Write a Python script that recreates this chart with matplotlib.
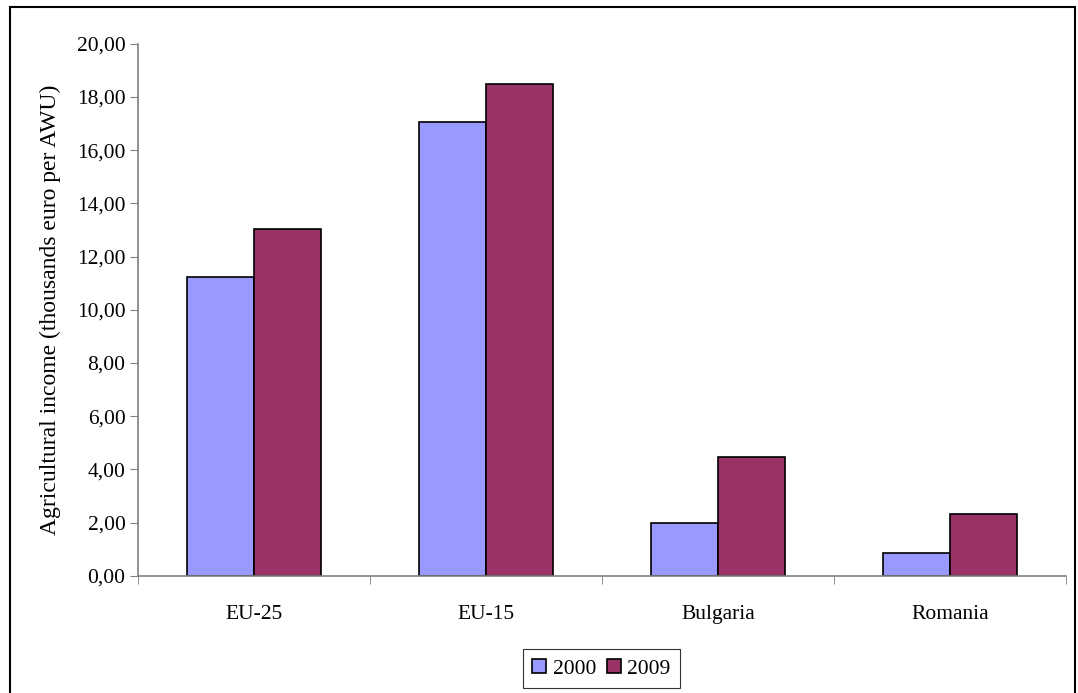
import numpy as np
import matplotlib.pyplot as plt
from matplotlib.patches import Rectangle

# -- data --
countries = ["EU-25", "EU-15", "Bulgaria", "Romania"]
years = ["2000", "2009"]
income_2000 = [11.25, 17.07, 2.00, 0.87]
income_2009 = [13.02, 18.47, 4.46, 2.32]
colors = ["#9999FF", "#993366"]

plt.rcParams['font.family'] = ['Liberation Serif', 'DejaVu Serif']

fig = plt.figure(figsize=(10.78, 6.93), dpi=100)
ax = fig.add_axes([0.128, 0.169, 0.861, 0.768])

x = np.arange(len(countries))
w = 0.289
ax.bar(x - w / 2, income_2000, w, color=colors[0], edgecolor="black", linewidth=1.2, label=years[0])
ax.bar(x + w / 2, income_2009, w, color=colors[1], edgecolor="black", linewidth=1.2, label=years[1])

ax.set_xlim(-0.5, len(countries) - 0.5)
ax.set_ylim(0, 20)
ax.set_yticks(np.arange(0, 21, 2))
ax.set_yticklabels([f"{v:.2f}".replace(".", ",") for v in np.arange(0, 21, 2)], fontsize=15.5)

# category labels centred, ticks on boundaries
ax.set_xticks(x)
ax.set_xticklabels(countries, fontsize=15.5)
ax.tick_params(axis="x", which="major", length=0, pad=21)
ax.set_xticks(np.arange(-0.5, len(countries)), minor=True)
ax.tick_params(axis="x", which="minor", length=6, direction="out", color="#808080")
ax.tick_params(axis="y", length=6, direction="out", color="#808080", pad=3)

for s in ["top", "right"]:
    ax.spines[s].set_visible(False)
for s in ["left", "bottom"]:
    ax.spines[s].set_color("#808080")
    ax.spines[s].set_linewidth(1.2)

ax.set_ylabel("Agricultural income (thousands euro per AWU)", fontsize=17, labelpad=11)

leg = fig.legend(loc="center", bbox_to_anchor=(0.558, 0.035), ncol=2, fontsize=15.5,
                 frameon=True, fancybox=False, edgecolor="black", handlelength=0.65,
                 handleheight=0.65, handletextpad=0.3, columnspacing=0.5,
                 borderpad=0.45)
leg.get_frame().set_linewidth(0.8)

# outer chart border
fig.patches.append(Rectangle((0.0093, -0.01), 0.988, 1.0, transform=fig.transFigure,
                             fill=False, edgecolor="black", linewidth=1.5))

fig.savefig("out.png", dpi=100)
